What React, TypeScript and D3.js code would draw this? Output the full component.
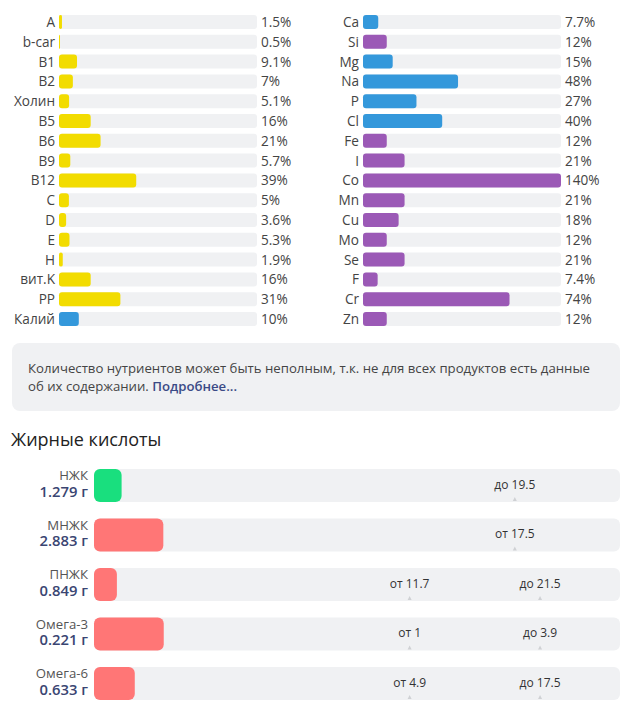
import React, {useEffect, useRef} from "react";
import * as d3 from "d3";

const ColorVit: string = "#f2dc00";
const ColorMin: string = "#3498db";
const ColorMicro: string = "#9b59b6";
const ColorTrack: string = "#f0f1f3";
const ColorSat: string = "#19df7e";
const ColorUnsat: string = "#ff7676";

// left column
const leftNames: string[] = ["A", "b-car", "B1", "B2", "Холин", "B5", "B6", "B9", "B12", "C", "D", "E", "H", "вит.K", "PP", "Калий"];
const leftValues: number[] = [1.5, 0.5, 9.1, 7, 5.1, 16, 21, 5.7, 39, 5, 3.6, 5.3, 1.9, 16, 31, 10];
const leftKinds: string[] = ["v", "v", "v", "v", "v", "v", "v", "v", "v", "v", "v", "v", "v", "v", "v", "m"];

// right column
const rightNames: string[] = ["Ca", "Si", "Mg", "Na", "P", "Cl", "Fe", "I", "Co", "Mn", "Cu", "Mo", "Se", "F", "Cr", "Zn"];
const rightValues: number[] = [7.7, 12, 15, 48, 27, 40, 12, 21, 140, 21, 18, 12, 21, 7.4, 74, 12];
const rightKinds: string[] = ["m", "t", "m", "m", "m", "m", "t", "t", "t", "t", "t", "t", "t", "t", "t", "t"];

// fatty acids
const fatNames: string[] = ["НЖК", "МНЖК", "ПНЖК", "Омега-3", "Омега-6"];
const fatGrams: number[] = [1.279, 2.883, 0.849, 0.221, 0.633];
const fatFrom: (number | null)[] = [null, 17.5, 11.7, 1, 4.9];
const fatTo: (number | null)[] = [19.5, null, 21.5, 3.9, 17.5];

const kindColor = (k: string) => k === "v" ? ColorVit : k === "m" ? ColorMin : ColorMicro;

export default function App(): React.ReactElement {
  const svgRef = useRef<SVGSVGElement>(null);

  useEffect(() => {
    if (svgRef.current === null) return;
    const svg = d3.select(svgRef.current);
    svg.selectAll("*").remove();
    const font = "'Open Sans', sans-serif";

    const rowY = d3.scaleLinear().domain([0, 15]).range([22, 319]);
    const barH = 14;

    function drawColumn(names: string[], values: number[], kinds: string[], x0: number) {
      const w = 198;
      const x = d3.scaleLinear().domain([0, 100]).range([0, w]).clamp(true);
      const g = svg.append("g").attr("transform", `translate(${x0},0)`);
      const rows = g.selectAll("g.row")
        .data(names.map((n, i) => ({name: n, value: values[i], kind: kinds[i], i})))
        .join("g")
        .attr("class", "row")
        .attr("transform", (d) => `translate(0,${rowY(d.i)})`);
      rows.append("rect")
        .attr("x", 0).attr("y", -barH / 2)
        .attr("width", w).attr("height", barH)
        .attr("rx", 3).attr("fill", ColorTrack);
      rows.append("rect")
        .attr("x", 0).attr("y", -barH / 2)
        .attr("width", (d) => Math.max(1, x(d.value)))
        .attr("height", barH)
        .attr("rx", (d) => Math.min(3, x(d.value) / 2))
        .attr("fill", (d) => kindColor(d.kind));
      rows.append("text")
        .attr("x", -4).attr("y", 5)
        .attr("text-anchor", "end")
        .attr("font-family", font).attr("font-size", 13.6)
        .attr("fill", "#444")
        .text((d) => d.name);
      rows.append("text")
        .attr("x", w + 4).attr("y", 5)
        .attr("font-family", font).attr("font-size", 13.6)
        .attr("fill", "#444")
        .text((d) => `${d.value}%`);
    }

    drawColumn(leftNames, leftValues, leftKinds, 59);
    drawColumn(rightNames, rightValues, rightKinds, 363);

    // info box
    svg.append("rect")
      .attr("x", 12).attr("y", 343).attr("width", 608).attr("height", 68)
      .attr("rx", 8).attr("fill", ColorTrack);
    svg.append("text")
      .attr("x", 28).attr("y", 373)
      .attr("font-family", font).attr("font-size", 13.2).attr("fill", "#444")
      .text("Количество нутриентов может быть неполным, т.к. не для всех продуктов есть данные");
    const t2 = svg.append("text")
      .attr("x", 28).attr("y", 391)
      .attr("font-family", font).attr("font-size", 13.2).attr("fill", "#444");
    t2.append("tspan").text("об их содержании. ");
    t2.append("tspan").attr("font-weight", 600).attr("fill", "#3b4a86").text("Подробнее...");

    svg.append("text")
      .attr("x", 11).attr("y", 446)
      .attr("font-family", font).attr("font-size", 18).attr("fill", "#222")
      .text("Жирные кислоты");

    // fatty acids
    const trackX = 94;
    const trackW = 526;
    const trackH = 33;
    const fatY = d3.scaleLinear().domain([0, 4]).range([469, 667]);
    const fat = fatNames.map((n, i) => ({name: n, g: fatGrams[i], from: fatFrom[i], to: fatTo[i], i}));

    fat.forEach((d) => {
      // reference point: lower bound sits at 60%, a lone bound at 80%
      const ref = d.from !== null && d.to !== null ? d.from : (d.to !== null ? d.to : d.from) as number;
      const refPos = d.from !== null && d.to !== null ? 0.6 : 0.8;
      const x = d3.scaleLinear().domain([0, ref]).range([0, refPos * trackW]);
      const g = svg.append("g").attr("transform", `translate(${trackX},${fatY(d.i)})`);
      g.append("rect").attr("width", trackW).attr("height", trackH).attr("rx", 6).attr("fill", ColorTrack);
      g.append("rect").attr("width", x(d.g)).attr("height", trackH).attr("rx", 6)
        .attr("fill", d.i === 0 ? ColorSat : ColorUnsat);

      const markers: {label: string, pos: number}[] = [];
      if (d.from !== null && d.to !== null) {
        markers.push({label: `от ${d.from}`, pos: x(d.from)});
        markers.push({label: `до ${d.to}`, pos: 0.848 * trackW});
      } else if (d.from !== null) {
        markers.push({label: `от ${d.from}`, pos: x(d.from)});
      } else if (d.to !== null) {
        markers.push({label: `до ${d.to}`, pos: x(d.to)});
      }
      markers.forEach((m) => {
        g.append("text")
          .attr("x", m.pos).attr("y", 19.5)
          .attr("text-anchor", "middle")
          .attr("font-family", font).attr("font-size", 12).attr("fill", "#333")
          .text(m.label);
        g.append("path")
          .attr("d", `M${m.pos - 2},${trackH - 1}L${m.pos},${trackH - 5}L${m.pos + 2},${trackH - 1}Z`)
          .attr("fill", "#cfd1d4");
      });

      // name and amount as one two-line label
      const lbl = g.append("text")
        .attr("text-anchor", "end")
        .attr("font-family", font);
      lbl.append("tspan")
        .attr("x", -6).attr("y", 11)
        .attr("font-size", 13.2).attr("fill", "#555")
        .text(d.name);
      lbl.append("tspan")
        .attr("x", -6).attr("y", 27.5)
        .attr("font-size", 14.8).attr("font-weight", 600).attr("fill", "#3a4572")
        .text(`${d.g} г`);
    });
  }, []);

  return (
    <svg ref={svgRef} width={635} height={715}
         style={{position: "absolute", left: 0, top: 0, background: "#fff"}}></svg>
  );
}
